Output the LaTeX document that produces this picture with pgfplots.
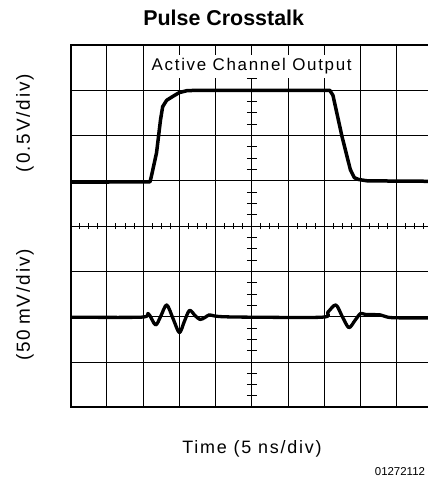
\documentclass[border=0pt]{standalone}
\usepackage{fontspec}
\setmainfont{Liberation Sans}
\newfontfamily\labfont[LetterSpace=10]{Liberation Sans}
\usepackage{pgfplots}
\pgfplotsset{compat=1.18}

% scope screen: 10 x 8 divisions, traces in division units
\pgfplotstableread{
x y
0.00 0.97
2.19 0.98
2.23 1.11
2.37 1.62
2.48 2.35
2.54 2.64
2.65 2.78
2.83 2.87
3.00 2.95
3.20 2.99
3.48 3.00
7.15 3.00
7.24 2.89
7.49 1.98
7.72 1.25
7.83 1.07
7.95 1.03
8.19 1.00
10.0 0.99
}\activech

\pgfplotstableread{
x y
0.00 -2.01
1.95 -2.01
2.14 -1.93
2.34 -2.18
2.48 -2.00
2.65 -1.74
2.83 -2.05
3.00 -2.35
3.14 -2.10
3.28 -1.86
3.44 -1.98
3.57 -2.06
3.70 -2.02
3.82 -1.96
3.95 -1.98
4.20 -2.00
5.00 -2.01
6.95 -2.01
7.10 -1.90
7.32 -1.74
7.50 -2.00
7.68 -2.24
7.85 -2.08
8.00 -1.93
8.14 -1.95
8.55 -1.96
8.86 -2.02
10.0 -2.03
}\crosstalk

\begin{document}
\begin{tikzpicture}[x=1bp,y=1bp]
\begin{axis}[
  at={(0,0)}, anchor=south west,
  scale only axis, width=362.2bp, height=362.3bp,
  xmin=0, xmax=10, ymin=-4, ymax=4,
  xtick={0,...,10}, ytick={-4,...,4},
  xticklabels={}, yticklabels={},
  major tick length=0pt,
  grid=major, major grid style={black, line width=0.9bp},
  axis line style={line width=1.9bp},
]
\addplot[black, line width=3.5bp, line join=round] table[x=x,y=y] {\activech};
\addplot[black, line width=3.3bp, smooth, tension=0.5, line join=round] table[x=x,y=y] {\crosstalk};
\end{axis}

% horizontal centre line with minor ticks
\begin{axis}[
  at={(0,0)}, anchor=south west,
  scale only axis, width=362.2bp, height=362.3bp,
  xmin=0, xmax=10, ymin=-4, ymax=4,
  axis x line=middle, axis y line=none,
  xtick={0,...,10}, minor x tick num=3, xticklabels={},
  tick align=center, major tick length=6bp, minor tick length=6bp,
  tick style={black, line width=1bp},
  axis line style={-, line width=1.2bp},
  every inner x axis line/.append style={-},
]
\end{axis}

% vertical centre line with minor ticks
\begin{axis}[
  at={(0,0)}, anchor=south west,
  scale only axis, width=362.2bp, height=362.3bp,
  xmin=-5, xmax=5, ymin=-4, ymax=4,
  axis y line=middle, axis x line=none,
  ytick={-4,...,4}, minor y tick num=3, yticklabels={},
  tick align=center, major tick length=10bp, minor tick length=10bp,
  tick style={black, line width=1bp},
  axis line style={-, line width=1.2bp},
  every inner y axis line/.append style={-},
]
\end{axis}

\node[anchor=base, font=\fontsize{21.5}{21.5}\selectfont\bfseries] at (153,381.3) {Pulse Crosstalk};
\node[anchor=base, fill=white, text height=13bp, text depth=4bp, inner ysep=3bp, inner xsep=3bp,
  font=\labfont\fontsize{17}{17}\selectfont] at (181,336.6) {Active Channel Output};
\node[anchor=base, font=\labfont\fontsize{18}{18}\selectfont] at (181.3,-46) {Time (5 ns/div)};
\node[rotate=90, font=\labfont\fontsize{19}{19}\selectfont] at (-45.7,284.3) {(0.5V/div)};
\node[rotate=90, font=\labfont\fontsize{19}{19}\selectfont] at (-45.7,102.3) {(50\hspace{5bp}mV/div)};
\node[anchor=base east, inner sep=0pt, font=\fontsize{11.5}{11.5}\selectfont] at (354.5,-67.7) {01272112};

\pgfresetboundingbox
\useasboundingbox (-70.7,-72.7) rectangle (356.3,407.3);
\end{tikzpicture}
\end{document}
